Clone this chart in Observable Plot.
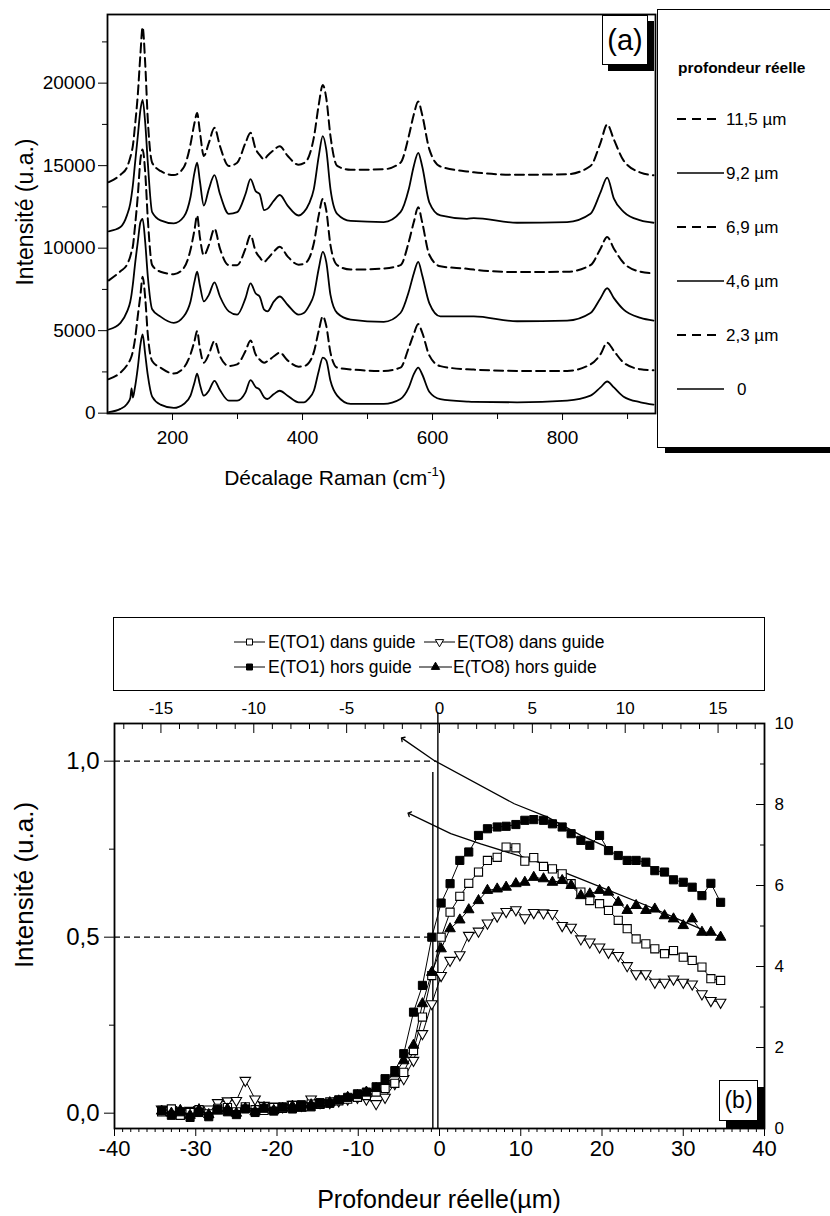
<!DOCTYPE html>
<html>
<head>
<meta charset="utf-8">
<script src="https://cdn.jsdelivr.net/npm/d3@7"></script>
<script src="https://cdn.jsdelivr.net/npm/@observablehq/plot@0.6"></script>
<style>
  html, body { margin: 0; padding: 0; background: #fff; }
  #root { position: relative; width: 830px; height: 1216px; overflow: hidden; background: #fff;
          font-family: "Liberation Sans", Arial, sans-serif; color: #000; }
  .abs { position: absolute; }
  .rot { position: absolute; white-space: nowrap; transform: translate(-50%, -50%) rotate(-90deg); }
  .ctr { position: absolute; white-space: nowrap; transform: translate(-50%, -50%); }
  .tag { position: absolute; box-sizing: border-box; background: #fff; border: 1.5px solid #000;
         display: flex; align-items: center; justify-content: center; }
</style>
</head>
<body>
<div id="root"></div>
<script>
// ---------------- Panel (a): Raman spectra ----------------
const ramanShift = [102,120,130,135,137,139,142,146.6,150.7,154,158,162,168.7,181.5,202,217.4,227.7,233.8,237.9,242,
  248.2,255.9,264.6,273,286.6,299.5,312.3,320,328,334,341,346,356,365,377,394,402,410,417.4,425,
  431.2,436.5,443,453.3,474,525,550.7,563.5,571.2,578,584,595,612,653,663.5,730,807,843,858.4,868.7,
  879,894,920,940];
const int0 = [60,260,560,900,1500,950,1500,2760,4170,4770, 3570,2300,1000,520,320,560,1060,1860,2400,1760,
  1060,1360,1960,1400,760,760,1260,2000,1580,1430, 960,860,1160,1360,1060,660,660,900,1360,2560,
  3370,3200,1960,1060,560,560,860,1560,2360,2760, 2360,1300,850,700,680,660,760,1060,1560,1920,
  1560,1000,660,520];
const int23 = [2060,2460,2900,3250,3450,3750,4400,5900,7170,8270, 7000,4770,3160,2760,2400,2760,3570,4370,4970,3970,
  3060,3570,4370,3450,2860,2960,3770,4410,3550,3250, 3060,3150,3450,3670,3200,2820,2850,3060,3700,5000,
  5870,5300,3670,2760,2650,2560,2760,3970,4800,5400, 4900,3500,2850,2660,2640,2560,2560,2960,3570,4270,
  3770,3060,2660,2600];
const int46 = [5070,5470,6150,6750,7200,7800,8900,10380,11580,11780, 10380,8300,6300,5850,5470,5870,6770,7970,8570,7770,
  6770,7170,7930,7070,6170,5970,6970,7870,7250,7070, 6270,6170,6770,7070,6570,5970,6070,6500,7170,8770,
  9770,9170,7170,6070,5670,5530,6070,7370,8470,9170, 8370,6670,5870,5870,5870,5570,5610,6070,6970,7570,
  6970,6270,5770,5610];
const int69 = [8050,8600,9000,9500,9800,10100,11200,13180,15380,15980, 14600,11780,8970,8570,8420,8800,9900,11100,11980,10700,
  9570,10180,11180,9970,8970,8970,9970,10780,9800,9450, 9170,9350,9800,10080,9500,9000,9050,9370,10300,12000,
  12980,12300,10180,8970,8700,8770,8970,10380,11580,12480, 11580,9600,8900,8750,8700,8550,8570,8970,9970,10680,
  9970,9100,8570,8470];
const int92 = [11020,11280,12000,12700,13200,13800,15000,16780,18390,18990, 17590,15180,12180,11680,11500,11900,13100,14580,15180,14100,
  12580,13580,14420,13280,12080,12180,13280,14180,13450,13280, 12300,12380,12880,13220,12580,11980,12180,12700,13580,15580,
  16790,15980,13580,12080,11650,11580,12180,13580,14980,15780, 14980,12780,11980,11780,11820,11540,11580,12080,13380,14280,
  13000,12200,11680,11540];
const int115 = [14000,14450,14900,15500,15800,16200,17300,19300,21790,23390, 21200,17790,15180,14680,14430,14900,16300,17590,18190,17100,
  15580,16380,17290,16180,14980,15180,16380,16990,16000,15650, 15380,15600,15950,16180,15600,15050,15150,15580,16700,18700,
  19890,19100,16790,14980,14750,14780,15180,16790,18100,18890, 18100,16000,14950,14650,14600,14450,14480,14980,16380,17490,
  16580,15300,14580,14420];
const depthLabelsA = ["11,5 µm", "9,2 µm", "6,9 µm", "4,6 µm", "2,3 µm", "0"];
const depthDashedA = [true, false, true, false, true, false];
const ramanTicks = [200, 400, 600, 800];
const ramanMinorTicks = [300, 500, 700, 900];
const intensityTicksA = [0, 5000, 10000, 15000, 20000];
const intensityMinorA = [2500, 7500, 12500, 17500, 22500];

// ---------------- Panel (b): depth profiles ----------------
const depth = [-34.2,-33.0,-31.9,-30.7,-29.6,-28.4,-27.3,-26.1,-25.0,-23.9,-22.7,-21.6,-20.4,-19.3,-18.1,-17.0,-15.8,-14.7,-13.5,-12.4,
  -11.3,-10.1,-9.0,-7.8,-6.7,-5.5,-4.4,-3.2,-2.1,-0.95,0.2,1.3,2.5,3.6,4.8,5.9,7.1,8.2,9.4,10.5,
  11.6,12.8,13.9,15.1,16.2,17.4,18.5,19.7,20.8,22.0,23.1,24.2,25.4,26.5,27.7,28.8,30.0,31.1,32.3,33.4,34.6];
const to1Dans = [0.004,0.012,-0.006,0.002,0.010,-0.002,0.014,0.016,0.004,0.018,0.010,
  0.008,0.016,0.014,0.022,0.018,0.026, 0.025,0.032,0.035,0.040,0.045,
  0.050,0.060,0.070,0.085,0.116,0.178,0.273,0.391,0.500,0.571,0.616,0.653,0.685,0.718,0.727,0.756,0.754,0.716,
  0.726,0.701,0.694,0.680,0.652,0.628,0.604,0.595,0.576,0.548,0.524,0.495,0.481,0.467,0.453,0.462,0.443,0.434,0.415,0.382,0.377];
const to1Hors = [0.008,-0.006,0.004,-0.012,0.002,-0.010,0.010,0.004,-0.004,0.012,0.002,
  0.014,0.006,0.018,0.012,0.024,0.018, 0.030,0.028,0.038,0.045,0.055,
  0.060,0.075,0.098,0.121,0.169,0.287,0.363,0.500,0.597,0.652,0.718,0.742,0.789,0.808,0.813,0.815,0.820,0.832,
  0.834,0.832,0.822,0.813,0.794,0.775,0.761,0.789,0.746,0.732,0.718,0.718,0.713,0.689,0.685,0.663,0.656,0.642,0.618,0.653,0.599];
const to8Dans = [0.012,0.010,0.005,0.008,0.010,0.012,0.030,0.035,0.036,0.093,0.040,
  0.022,0.020,0.018,0.025,0.022,0.040, 0.030,0.030,0.035,0.040,0.045,
  0.040,0.027,0.045,0.084,0.098,0.150,0.226,0.311,0.391,0.434,0.450,0.505,0.517,0.540,0.560,0.573,0.578,0.555,
  0.570,0.569,0.567,0.533,0.528,0.495,0.486,0.472,0.457,0.448,0.419,0.396,0.396,0.372,0.372,0.381,0.372,0.367,0.339,0.320,0.315];
const to8Hors = [0.006,0.000,0.008,-0.006,0.010,-0.004,0.006,0.012,0.000,0.014,0.004,
  0.016,0.008,0.014,0.020,0.014,0.024, 0.025,0.030,0.035,0.045,0.050,
  0.060,0.070,0.090,0.112,0.149,0.193,0.311,0.400,0.467,0.524,0.549,0.578,0.604,0.633,0.637,0.642,0.652,0.656,
  0.670,0.666,0.656,0.661,0.647,0.618,0.623,0.633,0.628,0.599,0.576,0.590,0.576,0.580,0.561,0.552,0.533,0.552,0.514,0.514,0.500];
// fitted decay lines (drawn from right to arrow head)
const fitTO1Depth = [20.6, 17.4, 13.3, 9.2, -0.66, -4.55];
const fitTO1Value = [0.756, 0.789, 0.841, 0.879, 1.002, 1.064];
const fitTO8Depth = [32, 26, 17.5, 11.6, 5.07, 1.39, -3.73];
const fitTO8Value = [0.525, 0.585, 0.664, 0.718, 0.765, 0.794, 0.851];
// guide lines at half / full intensity and interface lines
const guideLevels = [1.0, 0.5];
const guideEnds = [-0.3, -1.0];
const interfaceX = [-0.82, -0.2];
const interfaceTop = [0.968, 1.136];
const depthTicks = [-40, -30, -20, -10, 0, 10, 20, 30, 40];
const apparentTicks = [-15, -10, -5, 0, 5, 10, 15];
const apparentPerReal = 0.4375;
const ratioTicks = [0, 2, 4, 6, 8, 10];
const intensityTicksB = [0, 0.5, 1.0];
const intensityMinorB = [0.25, 0.75];
const legendLabelsB = ["E(TO1) dans guide", "E(TO8) dans guide", "E(TO1) hors guide", "E(TO8) hors guide"];

// ---------------- Build ----------------
const FONT = '"Liberation Sans", Arial, Helvetica, sans-serif';
const root = document.getElementById("root");
function add(el, css) { if (css) el.style.cssText += css; root.appendChild(el); return el; }

// Panel (a) plot
const spectra = [[int115, 0], [int92, 1], [int69, 2], [int46, 3], [int23, 4], [int0, 5]];
const rowsA = spectra.flatMap(([vals, i]) => vals.map((v, j) => ({x: ramanShift[j], y: v, series: depthLabelsA[i], dashed: depthDashedA[i]})));

const plotA = Plot.plot({
  width: 660, height: 500,
  marginLeft: 107, marginRight: 5, marginTop: 14, marginBottom: 87,
  x: {domain: [100, 943]},
  y: {domain: [-20, 24160]},
  style: {fontFamily: FONT, fontSize: "19px", color: "#000", background: "transparent", overflow: "visible"},
  marks: [
    Plot.line(rowsA.filter(d => !d.dashed), {x: "x", y: "y", z: "series", stroke: "#000", strokeWidth: 1.8, curve: "monotone-x"}),
    Plot.line(rowsA.filter(d => d.dashed), {x: "x", y: "y", z: "series", stroke: "#000", strokeWidth: 2, strokeDasharray: "9,5", curve: "monotone-x"}),
    Plot.axisX({ticks: ramanTicks, tickSize: 7, tickPadding: 10, fontSize: 19, tickFormat: d => String(d), label: null}),
    Plot.axisX({ticks: ramanMinorTicks, tickSize: 6, text: null, label: null}),
    Plot.axisY({ticks: intensityTicksA, tickSize: 9, tickPadding: 3, fontSize: 19, tickFormat: d => String(d), label: null}),
    Plot.axisY({ticks: intensityMinorA, tickSize: 5, text: null, label: null}),
    Plot.frame({stroke: "#000", strokeWidth: 1.8})
  ]
});
const wrapA = document.createElement("div");
wrapA.className = "abs"; wrapA.style.left = "0px"; wrapA.style.top = "0px"; wrapA.style.width = "660px";
wrapA.appendChild(plotA);
add(wrapA);

// Panel (a) axis titles
const yTitleA = document.createElement("div");
yTitleA.className = "rot"; yTitleA.textContent = "Intensité (u.a.)";
add(yTitleA, "left:25px;top:212px;font-size:23px;");
const xTitleA = document.createElement("div");
xTitleA.className = "ctr"; xTitleA.innerHTML = 'Décalage Raman (cm<sup style="font-size:13px;vertical-align:9px;line-height:0">-1</sup>)';
add(xTitleA, "left:335px;top:478px;font-size:21px;");

// Panel (a) tag
const tagA = document.createElement("div");
tagA.className = "tag"; tagA.textContent = "(a)";
add(tagA, "left:602px;top:15px;width:46px;height:50px;font-size:29px;box-shadow:6px 6px 0 #000;");

// Panel (a) legend
const legA = document.createElement("div");
legA.className = "abs";
add(legA, "left:657px;top:9px;width:200px;height:439px;box-sizing:border-box;border:1.5px solid #000;background:#fff;box-shadow:8px 5px 0 #000;");
const svgLA = d3.create("svg").attr("width", 196).attr("height", 434).style("font-family", FONT).style("display", "block");
svgLA.append("text").attr("x", 20).attr("y", 63).attr("font-weight", "bold").attr("font-size", 15.5).text("profondeur réelle");
depthLabelsA.forEach((lab, i) => {
  const y = 109 + i * 54;
  svgLA.append("line").attr("x1", 19).attr("x2", depthDashedA[i] ? 62 : 66).attr("y1", y).attr("y2", y)
    .attr("stroke", "#000").attr("stroke-width", depthDashedA[i] ? 1.9 : 1.6)
    .attr("stroke-dasharray", depthDashedA[i] ? "9,6" : null);
  svgLA.append("text").attr("x", lab === "0" ? 79 : 68).attr("y", y + 6).attr("font-size", 17).text(lab);
});
legA.appendChild(svgLA.node());

// Panel (b) plot
const yLo = -0.0435, yHi = 1.107;
const seriesB = [["E(TO8) dans guide", to8Dans], ["E(TO1) dans guide", to1Dans], ["E(TO8) hors guide", to8Hors], ["E(TO1) hors guide", to1Hors]];
const rowsB = seriesB.flatMap(([name, vals]) => vals.map((v, j) => ({depth: depth[j], value: v, series: name})));
const bySeries = name => rowsB.filter(d => d.series === name);
const fitRows = [
  ...fitTO1Depth.map((x, i) => ({x, y: fitTO1Value[i], fit: "TO1"})),
  ...fitTO8Depth.map((x, i) => ({x, y: fitTO8Value[i], fit: "TO8"}))
];
const guideRows = guideLevels.map((y, i) => ({y, x1: -40, x2: guideEnds[i]}));
const interfaceRows = interfaceX.map((x, i) => ({x, y1: yLo, y2: interfaceTop[i]}));
const ratioPos = r => yLo + r * (yHi - yLo) / 10;
const apparentPos = t => t / apparentPerReal;
const topMinor = d3.range(-17, 18).filter(t => t % 5 !== 0).map(apparentPos);

const plotB = Plot.plot({
  width: 830, height: 521,
  marginLeft: 114, marginRight: 66, marginTop: 28, marginBottom: 88,
  x: {domain: [-40, 40]},
  y: {domain: [yLo, yHi]},
  style: {fontFamily: FONT, fontSize: "20px", color: "#000", background: "transparent", overflow: "visible"},
  marks: [
    Plot.ruleY(guideRows, {y: "y", x1: "x1", x2: "x2", stroke: "#000", strokeWidth: 1.3, strokeDasharray: "6,4"}),
    Plot.ruleX(interfaceRows, {x: "x", y1: "y1", y2: "y2", stroke: "#000", strokeWidth: 1.4}),
    Plot.line(fitRows, {x: "x", y: "y", z: "fit", stroke: "#000", strokeWidth: 1.3, markerEnd: "arrow"}),
    Plot.line(rowsB, {x: "depth", y: "value", z: "series", stroke: "#000", strokeWidth: 1}),
    Plot.dot(bySeries("E(TO8) dans guide"), {x: "depth", y: "value", symbol: "triangle", rotate: 180, r: 3.9, fill: "#fff", stroke: "#000", strokeWidth: 1.1}),
    Plot.dot(bySeries("E(TO1) dans guide"), {x: "depth", y: "value", symbol: "square", r: 4.6, fill: "#fff", stroke: "#000", strokeWidth: 1.1}),
    Plot.dot(bySeries("E(TO8) hors guide"), {x: "depth", y: "value", symbol: "triangle", r: 3.9, fill: "#000", stroke: "#000", strokeWidth: 1}),
    Plot.dot(bySeries("E(TO1) hors guide"), {x: "depth", y: "value", symbol: "square", r: 4.6, fill: "#000", stroke: "#000", strokeWidth: 1}),
    // bottom axis
    Plot.axisX({ticks: depthTicks, tickSize: 8, tickPadding: 4, fontSize: 22, tickFormat: d => String(d), label: null}),
    Plot.axisX({ticks: d3.range(-40, 41).filter(v => v % 10 !== 0), tickSize: 4, text: null, label: null}),
    // top axis (inside ticks)
    Plot.axisX({anchor: "top", ticks: apparentTicks.map(apparentPos), tickSize: 0, tickPadding: 10, fontSize: 17,
      tickFormat: d => String(Math.round(d * apparentPerReal)), label: null}),
    Plot.axisX({anchor: "top", ticks: apparentTicks.map(apparentPos), tickSize: 9, dy: 9, text: null, label: null}),
    Plot.axisX({anchor: "top", ticks: topMinor, tickSize: 5, dy: 5, text: null, label: null}),
    // left axis
    Plot.axisY({ticks: intensityTicksB, tickSize: 10, tickPadding: 5, fontSize: 24, tickFormat: d => d.toFixed(1).replace(".", ","), label: null}),
    Plot.axisY({ticks: intensityMinorB, tickSize: 5, text: null, label: null}),
    // right axis (inside ticks)
    Plot.axisY({anchor: "right", ticks: ratioTicks.map(ratioPos), tickSize: 0, tickPadding: 10, fontSize: 17,
      tickFormat: d => String(Math.round((d - yLo) / (yHi - yLo) * 10)), label: null}),
    Plot.axisY({anchor: "right", ticks: ratioTicks.map(ratioPos), tickSize: 9, dx: -9, text: null, label: null}),
    Plot.axisY({anchor: "right", ticks: [1, 3, 5, 7, 9].map(ratioPos), tickSize: 5, dx: -5, text: null, label: null}),
    Plot.frame({stroke: "#000", strokeWidth: 1.8})
  ]
});
const wrapB = document.createElement("div");
wrapB.className = "abs"; wrapB.style.left = "0px"; wrapB.style.top = "695px"; wrapB.style.width = "830px";
wrapB.appendChild(plotB);
add(wrapB);

// Panel (b) titles
const yTitleB = document.createElement("div");
yTitleB.className = "rot"; yTitleB.textContent = "Intensité (u.a.)";
add(yTitleB, "left:24px;top:885px;font-size:26px;");
const xTitleB = document.createElement("div");
xTitleB.className = "ctr"; xTitleB.textContent = "Profondeur réelle(µm)";
add(xTitleB, "left:439px;top:1199px;font-size:25px;");

// Panel (b) tag
const tagB = document.createElement("div");
tagB.className = "tag"; tagB.textContent = "(b)";
add(tagB, "left:719px;top:1080px;width:39px;height:41px;font-size:23px;box-shadow:7px 7px 0 #000;");

// Panel (b) legend
const legB = document.createElement("div");
legB.className = "abs";
add(legB, "left:113px;top:617px;width:652px;height:74px;box-sizing:border-box;border:1.5px solid #000;background:#fff;");
const svgLB = d3.create("svg").attr("width", 649).attr("height", 71).style("font-family", FONT).style("display", "block");
const legendLayout = [
  {x1: 120, x2: 151, y: 24, sym: d3.symbolSquare, fill: "#fff", rot: 0, tx: 154},
  {x1: 310, x2: 341, y: 24, sym: d3.symbolTriangle, fill: "#fff", rot: 180, tx: 343},
  {x1: 120, x2: 151, y: 49, sym: d3.symbolSquare, fill: "#000", rot: 0, tx: 154},
  {x1: 305, x2: 338, y: 49, sym: d3.symbolTriangle, fill: "#000", rot: 0, tx: 339}
];
legendLabelsB.forEach((lab, i) => {
  const L = legendLayout[i];
  svgLB.append("line").attr("x1", L.x1).attr("x2", L.x2).attr("y1", L.y).attr("y2", L.y).attr("stroke", "#000").attr("stroke-width", 1);
  svgLB.append("path").attr("d", d3.symbol(L.sym, L.sym === d3.symbolSquare ? 36 : 30)())
    .attr("transform", `translate(${(L.x1 + L.x2) / 2},${L.y}) rotate(${L.rot})`)
    .attr("fill", L.fill).attr("stroke", "#000").attr("stroke-width", 1);
  svgLB.append("text").attr("x", L.tx).attr("y", L.y + 6).attr("font-size", 17.5).text(lab);
});
legB.appendChild(svgLB.node());
</script>
</body>
</html>
